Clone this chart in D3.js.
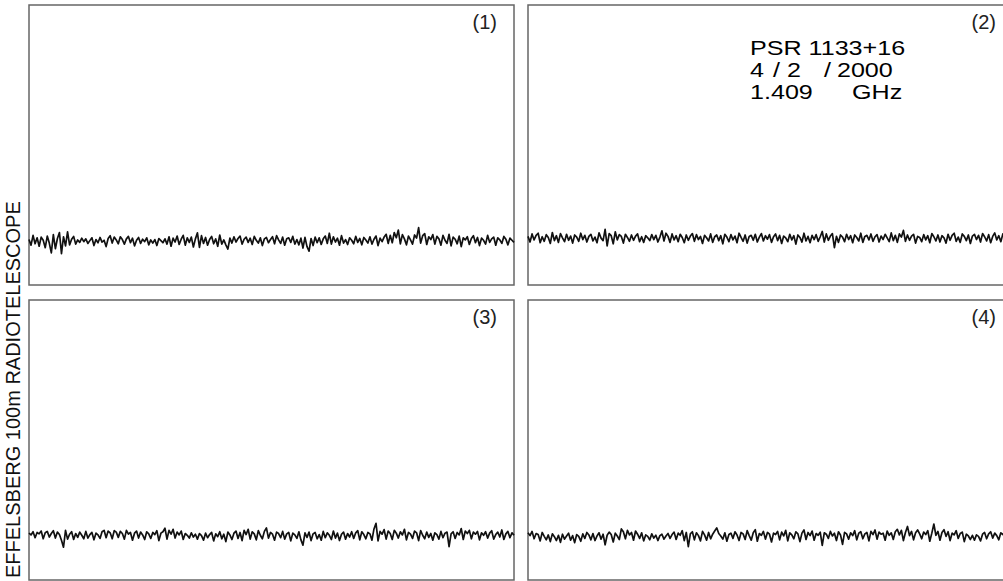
<!DOCTYPE html>
<html>
<head>
<meta charset="utf-8">
<script src="https://cdn.jsdelivr.net/npm/d3@7"></script>
<style>
  html, body { margin: 0; padding: 0; background: #fff; }
  svg { display: block; font-family: "Liberation Sans", Arial, Helvetica, sans-serif; }
</style>
</head>
<body>
<svg id="chart" width="1003" height="581"></svg>
<script>
// Single-pulse intensity traces, PSR 1133+16, Effelsberg 100m, 1.409 GHz
const panelLabels = ["(1)", "(2)", "(3)", "(4)"];
const sourceName = "PSR 1133+16";
const dateParts = ["4", "/", "2", "/", "2000"];
const freqParts = ["1.409", "GHz"];
const sideTitle = "EFFELSBERG 100m RADIOTELESCOPE";

// mean off-pulse level of each trace (arbitrary flux units)
const level = [0, 0.7, 0, -0.3];

const pulse1 = [
  0.4, -1.2, 1.6, -0.8, 0.9, -1.5, 1.1, 0.2, -1.9, 1.4, -0.6, -3.4, 1.8, -2.2, 0.7, 2.4, -3.6, 1.2, -1.4, 2.6,
  -1.1, 0.5, 1.3, -0.9, 0.3, -0.4, 0.8, -0.2, 0.6, -0.7, 0.1, 0.9, -1.3, 0.4, -0.5, 1.0, -0.3, 0.2, -1.6, 0.7,
  1.5, -0.6, 1.1, 0.3, -0.8, 1.2, 0.4, -0.9, 0.6, 1.3, -0.5, 0.8, -1.4, 0.2, 1.0, -0.7, 0.5, -0.2, 0.9, -1.1,
  0.3, -0.6, 0.4, -1.3, 0.7, 0.1, -0.5, 0.6, -0.9, 1.2, -1.5, 0.8, -0.3, 1.4, -1.0, 0.5, 1.6, -1.2, 0.9, -0.4,
  1.1, -1.7, 0.6, 2.3, -1.8, 1.5, -0.7, 1.0, -1.2, 0.4, 1.3, -0.8, 0.6, -1.5, 1.7, -0.9, 0.3, -1.1, -2.3, 0.8,
  -0.6, 1.2, -0.3, 0.7, 1.4, -0.9, 0.5, 1.1, -0.4, 0.8, -1.0, 1.3, 0.2, -0.6, 0.9, -1.3, 0.6, 1.0, -0.5, 0.4,
  1.2, -0.8, 1.5, 0.3, -0.7, 1.1, -1.2, 0.6, 0.9, -0.4, 1.3, -0.9, 0.4, -1.1, 0.8, -2.0, 1.0, -1.6, -2.9, 0.7,
  -1.3, 1.1, -0.5, 0.9, -1.0, 0.6, 1.4, -0.7, 2.2, -0.9, 1.2, -0.3, 0.8, -1.2, 1.5, -0.6, 0.4, -1.0, 0.9, 0.2,
  -0.8, 1.3, -0.4, 0.7, -1.1, 1.0, 0.3, -0.6, 1.2, -0.9, 0.5, 1.4, -1.3, 0.8, -0.2, 1.1, 1.9, -0.7, 1.6, -0.5,
  2.4, 0.9, 3.1, -0.8, 1.8, 0.6, -1.1, 1.4, 0.3, -0.9, 1.7, 0.8, 3.8, -0.6, 1.5, 2.1, -1.0, 1.2, 0.4, 1.8,
  -0.9, 1.3, 0.6, -1.2, 1.6, 0.2, -0.7, 1.9, -1.4, 1.1, 0.5, -0.8, 1.4, -1.6, 0.9, 0.3, 1.2, -1.0, 0.7, 1.5,
  -0.5, 1.0, -1.3, 0.8, 0.2, -0.9, 1.6, -0.4, 0.6, 1.1, -1.2, 0.9, 0.3, -0.7, 1.3, 0.5, -1.1, 0.8, 0.2, -0.4
];

const pulse2 = [
  0.6, -1.0, 1.3, -0.4, 0.9, 1.5, -1.2, 0.5, -0.8, 1.1, 0.3, -1.4, 1.7, -0.6, 0.8, -1.1, 1.4, 0.2, -0.9, 1.2,
  -0.5, 0.7, -1.3, 1.0, 0.4, -0.8, 1.5, -0.3, 0.9, -1.0, 0.6, 1.2, -0.7, 0.4, -1.2, 1.6, 0.1, -0.6, 2.6, -2.1,
  1.4, 0.8, -1.5, 1.9, -0.4, 1.1, 0.6, -1.3, 1.2, 0.3, -0.8, 1.0, -0.5, 0.7, 1.3, -0.9, 0.5, -1.1, 0.8, 0.2,
  -0.6, 1.1, -0.3, 0.9, -1.0, 0.4, 2.2, -0.7, 1.5, 0.6, -1.1, 1.3, -0.4, 0.8, -0.9, 1.2, 0.3, -1.2, 1.0, -0.5,
  0.7, 1.4, -0.8, 1.1, -0.3, 0.6, -1.4, 0.9, 0.2, -0.7, 1.3, -1.1, 0.5, 1.0, -0.6, 0.8, -1.5, 1.2, 0.4, -0.9,
  1.1, -0.4, 0.7, -1.2, 1.5, 0.3, -0.8, 1.0, -1.3, 0.6, 0.9, -0.5, 1.2, -1.0, 0.4, 1.4, -0.7, 0.8, -0.2, 1.1,
  -1.1, 0.5, 1.3, -0.6, 0.9, -1.4, 0.7, 0.2, -0.9, 1.2, -0.4, 0.8, -1.6, 1.0, 0.3, -1.0, 1.5, -0.7, 0.6, -1.2,
  0.9, -0.3, 1.1, -0.8, 0.5, 2.0, -1.0, 1.3, -0.5, 0.7, 1.4, -2.6, 0.6, -1.1, 1.0, 0.4, -0.9, 1.2, -0.3, 0.8,
  -1.2, 1.0, 0.3, -0.7, 1.5, -1.1, 0.6, 0.9, -0.4, 1.3, -0.8, 0.5, 1.1, -1.0, 0.7, -0.3, 1.2, 0.2, -0.9, 1.6,
  -0.6, 0.9, -1.1, 1.3, 0.4, 2.3, -0.8, 1.0, -0.5, 0.7, 1.2, -1.3, 0.6, 0.3, -0.9, 1.1, -0.4, 0.8, -1.2, 1.4,
  0.5, -0.7, 1.0, -1.0, 0.8, 0.2, -1.3, 1.2, -0.5, 0.9, 1.5, -0.8, 0.4, -1.1, 1.3, 0.6, -0.6, 1.0, -1.4, 0.7,
  1.2, -0.3, 0.9, -1.0, 1.4, 0.5, -0.7, 1.1, -1.2, 0.6, 1.6, -0.4, 0.8, -0.9, 1.3, 0.3, -1.1, 1.0, -0.5, 0.7
];

const pulse3 = [
  0.8, 0.3, 1.2, -0.5, 1.0, 0.6, 1.4, -0.8, 0.9, 1.3, -0.3, 0.7, 1.5, -0.6, 1.1, 0.4, -1.2, -3.2, 1.6, -0.9,
  0.5, 1.2, -1.0, 0.7, -0.4, 1.1, 0.2, -0.8, 1.3, -0.6, 0.4, 1.0, -1.1, 0.8, 0.3, -0.7, 1.2, 1.6, -0.5, 1.4,
  0.9, -0.8, 1.5, 1.1, -0.4, 1.3, 0.7, -0.9, 1.6, 0.5, 1.0, -1.2, 0.8, 1.4, -0.6, 1.1, 0.3, -1.0, 1.2, 0.6,
  -0.7, 1.0, 0.4, 1.5, -1.3, 0.8, 1.2, 2.2, -0.9, 1.6, 0.5, 1.9, -0.6, 1.1, 0.3, 1.4, -1.0, 0.7, 0.2, -0.6,
  0.9, -0.3, 0.5, -0.9, 0.7, 0.1, -1.2, 0.8, -0.5, 0.4, 1.0, -1.4, 0.6, -0.2, 1.2, -0.8, 0.5, -1.6, 1.1, 0.3,
  -1.0, 0.8, 1.4, -0.7, 1.0, -1.3, 1.6, 0.4, 1.9, -0.9, 1.2, 0.6, -1.1, 1.5, 0.2, -0.8, 1.3, 2.3, -0.6, 1.0,
  0.5, -1.2, 1.1, 0.7, -0.5, 1.3, -0.9, 0.6, 1.0, -1.4, 0.8, 0.3, -0.7, 1.2, -1.1, -2.6, 0.9, -0.4, 1.1, -1.3,
  0.6, 1.0, -0.8, 0.4, -1.2, 1.3, -0.5, 0.9, 0.2, -1.0, 1.4, -0.6, 0.8, -1.3, 0.5, 1.1, -0.9, 0.7, -0.3, 1.2,
  -0.7, 0.9, 1.5, -1.1, 1.2, 0.4, -0.8, 1.0, 0.6, -1.2, 2.0, 3.6, -1.4, 1.3, 0.5, 1.8, -0.9, 1.4, 0.7, -1.0,
  1.6, 0.8, -0.6, 1.2, 0.3, 1.9, -1.1, 1.0, 0.5, -0.7, 1.4, 0.9, -1.3, 1.5, 0.2, -0.8, 1.1, -0.4, 0.7, -1.2,
  0.9, 0.4, -0.9, 1.3, -0.5, 0.8, 1.1, -3.0, 0.6, 1.2, -0.7, 1.0, 0.3, 2.1, -1.0, 1.4, 0.7, 1.6, -0.8, 1.1,
  0.5, 1.3, -1.1, 0.9, 0.2, 1.2, -0.6, 0.8, 1.5, -0.9, 0.4, 1.1, -0.3, 1.7, -1.0, 0.6, 1.3, -0.5, 0.9, 0.2
];

const pulse4 = [
  1.2, 0.4, 1.6, -0.5, 1.0, 0.7, -1.1, 1.3, 0.2, -0.8, 0.6, -1.3, 0.9, 0.1, -1.0, 0.5, -1.5, 0.8, -0.6, 0.3,
  1.1, -0.9, 0.4, -1.6, 0.7, 0.2, -1.2, 0.9, -0.4, 1.3, 0.6, -0.8, 1.0, -1.0, 0.3, 1.2, -0.6, 0.8, -2.2, 0.5,
  1.4, 0.7, -1.4, 1.1, 0.3, -0.7, 2.3, 1.5, -0.5, 1.9, 0.6, 1.3, -0.9, 1.7, 0.8, -0.4, 1.2, -1.1, 0.6, 0.2,
  -0.8, 0.9, -0.3, 0.5, -1.0, 0.4, 0.8, -0.6, 0.3, 1.0, -0.4, 0.7, 1.4, -0.7, 1.1, 0.5, 1.8, -1.0, 1.3, -2.7,
  0.9, 1.5, -0.8, 1.2, 0.4, -1.1, 1.6, 0.6, -0.9, 1.3, -0.5, 0.8, 1.7, 2.6, 1.0, 0.3, -0.6, 1.2, -1.2, 0.7,
  1.1, -0.4, 1.5, 0.6, -1.0, 1.3, 0.9, -0.7, 1.8, 0.4, -0.9, 1.2, 2.1, -1.2, 1.0, 0.5, 1.6, -0.6, 1.3, 0.8,
  -1.4, 1.1, 0.7, 1.6, -0.8, 1.4, 0.3, 1.9, -1.1, 1.2, 0.6, -0.5, 1.5, 0.9, -1.3, 1.1, 2.0, -0.7, 1.3, 0.4,
  1.7, -0.9, 1.0, 0.5, 1.4, -2.4, 1.2, 0.8, -0.4, 1.6, 0.3, 1.1, -1.0, 1.5, 0.6, -2.1, 1.3, 0.9, -0.6, 1.2,
  0.4, 1.8, -0.8, 1.1, 1.5, -0.5, 0.9, 1.3, -1.1, 1.6, 0.7, 2.0, -0.6, 1.4, 0.8, 1.1, -0.9, 1.7, 0.5, 1.2,
  -0.7, 1.5, 2.2, 0.6, 1.9, -1.0, 1.3, 3.0, 0.4, 1.6, -0.8, 1.2, 2.0, 0.9, -0.5, 1.4, 0.7, 1.8, -1.2, 1.1,
  3.7, 0.5, 1.6, -0.9, 1.3, 2.1, 0.2, 1.5, -1.0, 1.1, 0.6, 1.8, -0.4, 1.0, 1.4, -1.3, 0.8, 0.3, -0.7, 0.5,
  -0.9, 0.6, 0.2, -1.1, 0.8, 1.3, -0.5, 0.9, 1.5, -0.3, 1.1, 0.4, -0.8, 1.2, 0.7, 1.6, -0.6, 1.0, 0.4, 1.3
];

const pulses = [pulse1, pulse2, pulse3, pulse4];

// panel grid: 2 columns x 2 rows
const svg = d3.select("#chart");
const colX = [29, 528];
const rowY = [5, 300];
const pw = 485, ph = 280;

const x = d3.scaleLinear().domain([0, pulse1.length - 1]).range([0, pw]);
const y = d3.scaleLinear().domain([-12.5, 67]).range([ph, 0]);

const line = d3.line()
  .x((d, i) => x(i))
  .y(d => y(d));

pulses.forEach((series, k) => {
  const col = k % 2, row = Math.floor(k / 2);
  const g = svg.append("g")
    .attr("transform", `translate(${colX[col]},${rowY[row]})`);

  g.append("rect")
    .attr("x", 0).attr("y", 0)
    .attr("width", pw).attr("height", ph)
    .attr("fill", "#fff")
    .attr("stroke", "#666")
    .attr("stroke-width", 1.5);

  g.append("path")
    .datum(series.map(v => v + level[k]))
    .attr("d", line)
    .attr("fill", "none")
    .attr("stroke", "#111")
    .attr("stroke-width", 1.7)
    .attr("stroke-linejoin", "round");

  g.append("text")
    .attr("x", 468).attr("y", 24)
    .attr("text-anchor", "end")
    .attr("font-size", 20)
    .attr("fill", "#222")
    .text(panelLabels[k]);
});

// observation details, set in a horizontally widened face
const info = svg.append("g")
  .attr("transform", "translate(750,0) scale(1.288,1)")
  .attr("font-size", 19.5)
  .attr("fill", "#000");

info.append("text")
  .attr("x", 0).attr("y", 55)
  .text(sourceName);

const dateX = [0, 17.9, 28.7, 57.4, 67.5];
info.append("text").attr("y", 77)
  .selectAll("tspan").data(dateParts).join("tspan")
  .attr("x", (d, i) => dateX[i])
  .text(d => d);

const freqX = [0, 79.2];
info.append("text").attr("y", 99)
  .selectAll("tspan").data(freqParts).join("tspan")
  .attr("x", (d, i) => freqX[i])
  .text(d => d);

svg.append("text")
  .attr("transform", "translate(20,578) rotate(-90)")
  .attr("font-size", 20)
  .attr("fill", "#111")
  .text(sideTitle);
</script>
</body>
</html>
